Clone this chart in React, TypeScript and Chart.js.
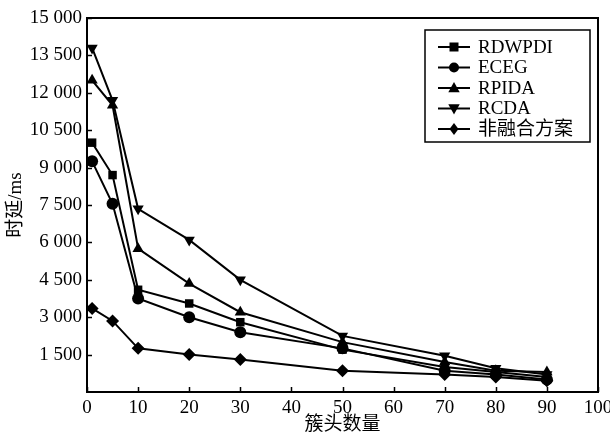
import React, { useEffect, useRef } from "react";
import { Chart, registerables } from "chart.js";

Chart.register(...registerables);

const clusterHeads = [1, 5, 10, 20, 30, 50, 70, 80, 90];
const rdwpdi = [10000, 8700, 4100, 3550, 2800, 1700, 1000, 800, 600];
const eceg = [9250, 7550, 3750, 3000, 2400, 1750, 850, 700, 500];
const rpida = [12500, 11500, 5750, 4350, 3200, 2000, 1200, 850, 800];
const rcda = [13800, 11700, 7350, 6100, 4500, 2250, 1450, 950, 700];
const nonFusion = [3350, 2850, 1750, 1500, 1300, 850, 700, 600, 450];

const seriesNames = ["RDWPDI", "ECEG", "RPIDA", "RCDA", "非融合方案"];
const yTicks = [1500, 3000, 4500, 6000, 7500, 9000, 10500, 12000, 13500, 15000];
const xTicks = [0, 10, 20, 30, 40, 50, 60, 70, 80, 90, 100];

const FONT = "'Liberation Serif', 'Noto Sans CJK SC', serif";

const styles: { pointStyle: any; rotation: number; radius: number }[] = [
  { pointStyle: "rect", rotation: 0, radius: 6 },
  { pointStyle: "circle", rotation: 0, radius: 6 },
  { pointStyle: "triangle", rotation: 0, radius: 6.5 },
  { pointStyle: "triangle", rotation: 180, radius: 6.5 },
  { pointStyle: "rectRot", rotation: 0, radius: 6.5 },
];

const fmt = (v: number) => {
  const s = String(v);
  if (s.length > 3) return s.slice(0, s.length - 3) + " " + s.slice(s.length - 3);
  return s;
};

function drawMarker(ctx: CanvasRenderingContext2D, style: string, r: number, x: number, y: number, rot: number) {
  ctx.save();
  ctx.translate(x, y);
  ctx.rotate((rot * Math.PI) / 180);
  ctx.beginPath();
  if (style === "rect") {
    ctx.rect(-r, -r, 2 * r, 2 * r);
  } else if (style === "circle") {
    ctx.arc(0, 0, r + 0.5, 0, Math.PI * 2);
  } else if (style === "triangle") {
    const rr = r + 1.5;
    ctx.moveTo(0, -rr);
    ctx.lineTo(rr * 0.95, rr * 0.7);
    ctx.lineTo(-rr * 0.95, rr * 0.7);
    ctx.closePath();
  } else {
    const rr = r + 1.5;
    ctx.moveTo(0, -rr);
    ctx.lineTo(rr * 0.75, 0);
    ctx.lineTo(0, rr);
    ctx.lineTo(-rr * 0.75, 0);
    ctx.closePath();
  }
  ctx.fill();
  ctx.restore();
}

const framePlugin = {
  id: "frame",
  afterDraw(chart: any) {
    const { ctx, chartArea } = chart;
    const { left, right, top, bottom } = chartArea;
    const xs = chart.scales.x;
    const ys = chart.scales.y;
    ctx.save();
    ctx.strokeStyle = "#000";
    ctx.lineWidth = 2;
    ctx.strokeRect(left, top, right - left, bottom - top);
    ctx.lineWidth = 1.5;
    ctx.beginPath();
    for (const t of yTicks) {
      const y = Math.round(ys.getPixelForValue(t)) + 0.5;
      ctx.moveTo(left, y);
      ctx.lineTo(left + 5, y);
    }
    for (const t of xTicks) {
      const x = Math.round(xs.getPixelForValue(t)) + 0.5;
      ctx.moveTo(x, bottom);
      ctx.lineTo(x, bottom - 5);
    }
    ctx.stroke();

    // legend
    const bx = 425, by = 30, bw = 165, bh = 112;
    ctx.fillStyle = "#fff";
    ctx.fillRect(bx, by, bw, bh);
    ctx.lineWidth = 1.5;
    ctx.strokeRect(bx, by, bw, bh);
    ctx.font = `19px ${FONT}`;
    ctx.textBaseline = "middle";
    ctx.textAlign = "left";
    chart.data.datasets.forEach((ds: any, i: number) => {
      const cy = by + 17 + i * 20.5;
      ctx.strokeStyle = "#000";
      ctx.lineWidth = 2;
      ctx.beginPath();
      ctx.moveTo(438, cy);
      ctx.lineTo(470, cy);
      ctx.stroke();
      ctx.fillStyle = "#000";
      drawMarker(ctx, styles[i].pointStyle, 4.5, 454, cy, styles[i].rotation);
      ctx.fillStyle = "#000";
      ctx.fillText(ds.label, 478, cy + 1);
    });
    ctx.restore();
  },
};

export default function App() {
  const ref = useRef<HTMLCanvasElement>(null);
  useEffect(() => {
    document.body.style.margin = "0";
    const all = [rdwpdi, eceg, rpida, rcda, nonFusion];
    const chart = new Chart(ref.current!, {
      type: "line",
      data: {
        datasets: all.map((arr, i) => ({
          label: seriesNames[i],
          data: arr.map((v, j) => ({ x: clusterHeads[j], y: v })),
          borderColor: "#000",
          backgroundColor: "#000",
          borderWidth: 2,
          pointStyle: styles[i].pointStyle,
          rotation: styles[i].rotation,
          pointRadius: styles[i].radius,
          pointBackgroundColor: "#000",
          pointBorderColor: "#000",
          pointBorderWidth: 0,
          tension: 0,
        })),
      },
      options: {
        animation: false,
        responsive: false,
        layout: { padding: { top: 18, right: 12, left: 0, bottom: 0 } },
        plugins: { legend: { display: false }, tooltip: { enabled: false } },
        scales: {
          x: {
            type: "linear",
            min: 0,
            max: 100,
            afterBuildTicks: (s: any) => {
              s.ticks = xTicks.map((v) => ({ value: v }));
            },
            ticks: {
              color: "#000",
              font: { family: FONT, size: 19 },
              padding: 5,
              maxRotation: 0,
              callback: (v: any) => String(v),
            },
            grid: { display: false, drawTicks: false },
            border: { display: false },
            title: {
              display: true,
              text: "簇头数量",
              color: "#000",
              font: { family: FONT, size: 19 },
              padding: { top: 0, bottom: 1 },
            },
            afterFit: (s: any) => {
              s.height = 45;
              s.paddingLeft = 0;
              s.paddingRight = 0;
            },
          },
          y: {
            min: 0,
            max: 15000,
            afterBuildTicks: (s: any) => {
              s.ticks = yTicks.map((v) => ({ value: v }));
            },
            ticks: {
              color: "#000",
              font: { family: FONT, size: 19 },
              padding: 5,
              callback: (v: any) => fmt(Number(v)),
            },
            grid: { display: false, drawTicks: false },
            border: { display: false },
            title: {
              display: true,
              text: "时延/ms",
              color: "#000",
              font: { family: FONT, size: 19 },
              padding: { top: 5, bottom: 0 },
            },
            afterFit: (s: any) => {
              s.width = 87;
              s.paddingTop = 0;
              s.paddingBottom = 0;
            },
          },
        },
      },
      plugins: [framePlugin],
    } as any);
    return () => chart.destroy();
  }, []);
  return (
    <div style={{ width: 610, height: 437, background: "#fff" }}>
      <canvas ref={ref} width={610} height={437} style={{ display: "block" }} />
    </div>
  );
}
